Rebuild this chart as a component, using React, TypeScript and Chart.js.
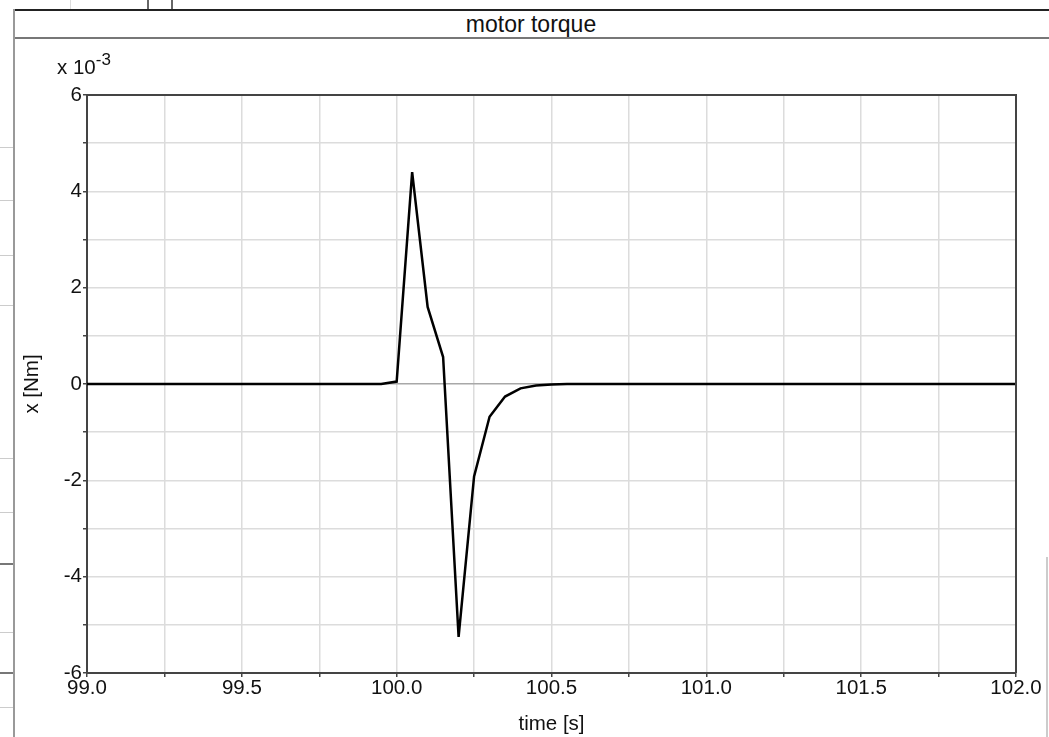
import React, { useEffect, useRef } from "react";
import { Chart, registerables } from "chart.js";

Chart.register(...registerables);

// ---- data (torque values are in units of 10^-3 Nm) ----
const timeSeconds = [99.0, 99.95, 100.0, 100.05, 100.1, 100.15, 100.2, 100.25, 100.3, 100.35, 100.4, 100.45, 100.5, 100.55, 102.0];
const torqueE3 = [0, 0, 0.05, 4.4, 1.6, 0.56, -5.25, -1.92, -0.68, -0.26, -0.09, -0.03, -0.01, 0, 0];

const xMin = 99;
const xMax = 102;
const xGridStep = 0.25;
const xLabelStep = 0.5;
const yMin = -6;
const yMax = 6;
const yGridStep = 1;
const yLabelStep = 2;

const chartTitle = "motor torque";
const xAxisTitle = "time [s]";
const yAxisTitle = "x [Nm]";
const multiplierBase = "x 10";
const multiplierExp = "-3";

const FONT = "'Liberation Sans', Arial, Helvetica, sans-serif";

const framePlugin = {
  id: "plotFrame",
  afterDraw(chart: any) {
    const { ctx, chartArea } = chart;
    ctx.save();
    ctx.strokeStyle = "#444";
    ctx.lineWidth = 2;
    ctx.beginPath();
    ctx.moveTo(chartArea.left, chartArea.top);
    ctx.lineTo(chartArea.right, chartArea.top);
    ctx.lineTo(chartArea.right, chartArea.bottom);
    ctx.stroke();
    ctx.restore();
  },
};

export default function App() {
  const canvasRef = useRef<HTMLCanvasElement | null>(null);

  useEffect(() => {
    if (!canvasRef.current) return;
    const points = timeSeconds.map((t, i) => ({ x: t, y: torqueE3[i] }));
    const chart = new Chart(canvasRef.current, {
      type: "line",
      data: {
        datasets: [
          {
            data: points,
            borderColor: "#000",
            borderWidth: 2.5,
            pointRadius: 0,
            tension: 0,
            fill: false,
          },
        ],
      },
      options: {
        animation: false,
        responsive: false,
        devicePixelRatio: 1,
        layout: { padding: { top: 95, right: 33, left: 0, bottom: 0 } },
        plugins: {
          legend: { display: false },
          tooltip: { enabled: false },
          title: { display: false },
        },
        scales: {
          x: {
            type: "linear",
            min: xMin,
            max: xMax,
            afterFit: (s: any) => {
              s.height = 64;
            },
            border: { color: "#444", width: 2 },
            grid: {
              color: "#dcdcdc",
              lineWidth: 1.5,
              tickLength: 4,
              tickColor: "#444",
              tickWidth: 1.5,
            },
            ticks: {
              stepSize: xGridStep,
              autoSkip: false,
              maxRotation: 0,
              padding: -1,
              color: "#111",
              font: { family: FONT, size: 20.5 },
              callback: (v: any) => {
                const r = v / xLabelStep;
                return Math.abs(r - Math.round(r)) < 1e-6 ? Number(v).toFixed(1) : "";
              },
            },
            title: {
              display: true,
              text: xAxisTitle,
              color: "#111",
              font: { family: FONT, size: 20.5 },
              padding: { top: 0, bottom: 0 },
            },
          },
          y: {
            type: "linear",
            min: yMin,
            max: yMax,
            afterFit: (s: any) => {
              s.width = 87;
            },
            border: { color: "#444", width: 2 },
            grid: {
              color: (c: any) => (c.tick && c.tick.value === 0 ? "#a8a8a8" : "#dcdcdc"),
              lineWidth: 1.5,
              tickLength: 4,
              tickColor: "#444",
              tickWidth: 1.5,
            },
            ticks: {
              stepSize: yGridStep,
              autoSkip: false,
              padding: 1,
              color: "#111",
              font: { family: FONT, size: 20.5 },
              callback: (v: any) => (Math.abs(v % yLabelStep) < 1e-9 ? String(v) : ""),
            },
            title: {
              display: true,
              text: yAxisTitle,
              color: "#111",
              font: { family: FONT, size: 20.5 },
              padding: { top: 20, bottom: 0 },
            },
          },
        },
      },
      plugins: [framePlugin],
    } as any);
    return () => chart.destroy();
  }, []);

  const line = (style: React.CSSProperties, key?: string) => (
    <div key={key} style={{ position: "absolute", ...style }} />
  );

  return (
    <div
      style={{
        position: "absolute",
        left: 0,
        top: 0,
        width: 1049,
        height: 737,
        background: "#fff",
        overflow: "hidden",
        fontFamily: FONT,
      }}
    >
      {/* surrounding window frame */}
      {line({ left: 70, top: 0, width: 1, height: 9, background: "#ddd" })}
      {line({ left: 147, top: 0, width: 2, height: 9, background: "#666" })}
      {line({ left: 171, top: 0, width: 2, height: 9, background: "#666" })}
      {line({ left: 13, top: 9, width: 1036, height: 2, background: "#222" })}
      {line({ left: 13, top: 37, width: 1036, height: 2, background: "#777" })}
      {line({ left: 13, top: 9, width: 2, height: 728, background: "#999" })}
      {line({ left: 1046, top: 557, width: 2, height: 180, background: "#ccc" })}
      {[147, 200, 255, 305, 458, 512, 632, 707].map((y) =>
        line({ left: 0, top: y, width: 13, height: 1, background: "#ccc" }, "l" + y)
      )}
      {[563, 672].map((y) =>
        line({ left: 0, top: y, width: 13, height: 2, background: "#777" }, "d" + y)
      )}
      <div
        style={{
          position: "absolute",
          left: 13,
          top: 11,
          width: 1036,
          height: 26,
          lineHeight: "26px",
          textAlign: "center",
          fontSize: 23,
          color: "#111",
        }}
      >
        {chartTitle}
      </div>
      <canvas
        ref={canvasRef}
        width={1049}
        height={737}
        style={{ position: "absolute", left: 0, top: 0, width: 1049, height: 737 }}
      />
      <div
        style={{
          position: "absolute",
          left: 57,
          top: 55,
          fontSize: 20.5,
          color: "#111",
          whiteSpace: "nowrap",
          lineHeight: "24px",
        }}
      >
        {multiplierBase}
        <sup style={{ fontSize: 17, verticalAlign: "9px", lineHeight: 0 }}>{multiplierExp}</sup>
      </div>
    </div>
  );
}
